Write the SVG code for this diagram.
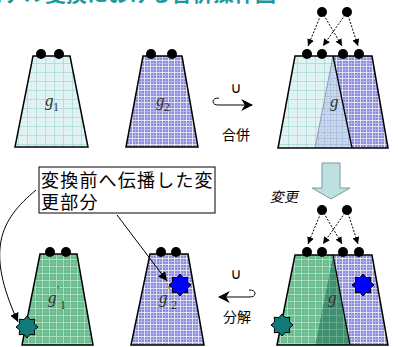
<svg xmlns="http://www.w3.org/2000/svg" width="398" height="347" viewBox="0 0 398 347">
<style>
.edge{stroke:#000;stroke-width:1.5;stroke-linejoin:miter}
.dot{fill:#000}
.dash{stroke:#000;stroke-width:1;stroke-dasharray:2 1.5;fill:none}
.lbl{font-family:"Liberation Serif",serif;font-style:italic;font-size:17px;fill:#333}
.sub{font-family:"Liberation Serif",serif;font-size:12px;fill:#333}
.jp{font-family:"Noto Sans CJK JP",sans-serif;fill:#000}
.ln{stroke:#000;stroke-width:1;fill:none}
</style>
<defs>
<pattern id="pc" width="9" height="9" patternUnits="userSpaceOnUse">
<rect width="9" height="9" fill="#e1f2f2"/>
<path d="M0 0.5H9M0.5 0V9" stroke="#a9d9d9" stroke-width="0.8"/>
<circle cx="4.5" cy="4.5" r="0.6" fill="#bfe3e3"/>
</pattern>
<pattern id="pb" width="6" height="6" patternUnits="userSpaceOnUse">
<rect width="6" height="6" fill="#8c8cd6"/>
<path d="M0 0.5H6M0.5 0V6" stroke="#ececff" stroke-width="0.9"/>
<path d="M0 3.5H6M3.5 0V6" stroke="#c8c8f0" stroke-width="0.6"/>
</pattern>
<pattern id="pm" width="6" height="6" patternUnits="userSpaceOnUse">
<rect width="6" height="6" fill="#c6dae8"/>
<path d="M0 0.5H6M0.5 0V6" stroke="#a8b4e0" stroke-width="0.7"/>
<circle cx="3.5" cy="3.5" r="0.6" fill="#9fa8dc"/>
</pattern>
<pattern id="pg" width="7" height="7" patternUnits="userSpaceOnUse">
<rect width="7" height="7" fill="#66b98a"/>
<path d="M0 0.5H7M0.5 0V7" stroke="#b2e2c4" stroke-width="0.9"/>
<path d="M0 4H7M4 0V7" stroke="#88cca6" stroke-width="0.6"/>
</pattern>
<pattern id="pd" width="7" height="7" patternUnits="userSpaceOnUse">
<rect width="7" height="7" fill="#3f9070"/>
<path d="M0 0.5H7M0.5 0V7" stroke="#6fae92" stroke-width="0.8"/>
</pattern>
<polygon id="star" points="0,-11 3.06,-7.39 7.78,-7.78 7.39,-3.06 11,0 7.39,3.06 7.78,7.78 3.06,7.39 0,11 -3.06,7.39 -7.78,7.78 -7.39,3.06 -11,0 -7.39,-3.06 -7.78,-7.78 -3.06,-7.39" stroke="#000" stroke-width="1"/>
<marker id="ah" viewBox="0 0 10 10" refX="10" refY="5" markerWidth="7" markerHeight="7" orient="auto" markerUnits="userSpaceOnUse">
<path d="M0 0L10 5L0 10z" fill="#000"/>
</marker>
<marker id="ah2" viewBox="0 0 10 10" refX="10" refY="5" markerWidth="9" markerHeight="9" orient="auto" markerUnits="userSpaceOnUse">
<path d="M0 0L10 5L0 10z" fill="#000"/>
</marker>
<marker id="ah3" viewBox="0 0 10 10" refX="9" refY="5" markerWidth="12" markerHeight="12" orient="auto" markerUnits="userSpaceOnUse">
<path d="M0 0L10 5L0 10L3 5z" fill="#000"/>
</marker>
</defs>
<rect width="398" height="347" fill="#fff"/>
<text x="-18" y="1" font-family="Noto Sans CJK JP,sans-serif" font-size="21" font-weight="bold" fill="#1a9aa0">モデル変換における合併操作図</text>

<g id="g1">
<polygon points="33,56 70,56 88,147 15,147" fill="url(#pc)" class="edge"/>
<circle cx="41" cy="54" r="5" class="dot"/><circle cx="59" cy="54" r="5" class="dot"/>
<text x="45" y="106" class="lbl">g</text><text x="53" y="111" class="sub">1</text>
</g>
<g id="g2">
<polygon points="143,56 182,56 198,147 126,147" fill="url(#pb)" class="edge"/>
<circle cx="151" cy="54" r="5" class="dot"/><circle cx="172" cy="54" r="5" class="dot"/>
<text x="156" y="106" class="lbl">g</text><text x="164" y="111" class="sub">2</text>
</g>
<g id="merge">
<text x="236" y="93" text-anchor="middle" font-family="DejaVu Sans,sans-serif" font-size="15" fill="#000">∪</text>
<path d="M219 98 Q213 98 213 101.5 Q213 105 219 105 L252 105" class="ln" stroke-width="1.8" marker-end="url(#ah3)"/>
<text x="236" y="140" text-anchor="middle" class="jp" font-size="14">合併</text>
</g>
<g id="g">
<polygon points="295,56 333,56 315,148 278,148" fill="url(#pc)"/>
<polygon points="333,56 352,148 315,148" fill="url(#pm)"/>
<polygon points="333,56 372,56 388,148 352,148" fill="url(#pb)"/>
<line x1="333" y1="56" x2="315" y2="148" stroke="#7a8aa0" stroke-width="0.8"/>
<line x1="333" y1="56" x2="352" y2="148" stroke="#000" stroke-width="1.3"/>
<polygon points="295,56 372,56 388,148 278,148" fill="none" class="edge"/>
<circle cx="307" cy="54" r="5" class="dot"/><circle cx="322" cy="54" r="5" class="dot"/>
<circle cx="343" cy="54" r="5" class="dot"/><circle cx="359" cy="54" r="5" class="dot"/>
<circle cx="322" cy="12" r="5" class="dot"/><circle cx="347" cy="12" r="5" class="dot"/>
<text x="330" y="107" class="lbl">g</text>
</g>
<g id="change">
<polygon points="322,163 340,163 340,188 350,188 331,199 312,188 322,188" fill="#bde0e3" stroke="#7c9a9c" stroke-width="1"/>
<text x="284" y="202" text-anchor="middle" class="jp" font-size="14" transform="translate(284 202) skewX(-12) translate(-284 -202)">変更</text>
</g>
<g id="g1p">
<polygon points="40,254 77,254 93,345 22,345" fill="url(#pg)" class="edge"/>
<circle cx="50" cy="252" r="5" class="dot"/><circle cx="66" cy="252" r="5" class="dot"/>
<text x="48" y="303" class="lbl">g</text><text x="57" y="294" class="sub">'</text><text x="60" y="309" class="sub">1</text>
<use href="#star" x="27" y="327" fill="#117a78"/>
</g>
<g id="g2p">
<polygon points="150,254 188,254 204,345 131,345" fill="url(#pb)" class="edge"/>
<circle cx="161" cy="252" r="5" class="dot"/><circle cx="176" cy="252" r="5" class="dot"/>
<text x="159" y="303" class="lbl">g</text><text x="168" y="294" class="sub">'</text><text x="171" y="309" class="sub">2</text>
<use href="#star" x="180" y="285" fill="#0000ff"/>
</g>
<g id="split">
<text x="236" y="279" text-anchor="middle" font-family="DejaVu Sans,sans-serif" font-size="15" fill="#000">∪</text>
<path d="M249 290 Q255 290 255 293.5 Q255 297 249 297 L219 297" class="ln" stroke-width="1.8" marker-end="url(#ah3)"/>
<text x="237" y="322" text-anchor="middle" class="jp" font-size="14">分解</text>
</g>
<g id="gp">
<polygon points="295,255 333,255 315,345 277,345" fill="url(#pg)"/>
<polygon points="333,255 350,345 315,345" fill="url(#pd)"/>
<polygon points="333,255 372,255 388,345 350,345" fill="url(#pb)"/>
<line x1="333" y1="255" x2="350" y2="345" stroke="#000" stroke-width="1.3"/>
<polygon points="295,255 372,255 388,345 277,345" fill="none" class="edge"/>
<circle cx="307" cy="252" r="5" class="dot"/><circle cx="322" cy="252" r="5" class="dot"/>
<circle cx="343" cy="252" r="5" class="dot"/><circle cx="359" cy="252" r="5" class="dot"/>
<circle cx="322" cy="210" r="5" class="dot"/><circle cx="347" cy="210" r="5" class="dot"/>
<text x="328" y="303" class="lbl">g</text>
<use href="#star" x="282" y="325" fill="#117a78"/>
<use href="#star" x="363" y="285" fill="#0000ff"/>
</g>
<g id="callout">
<rect x="39" y="167" width="176" height="46" fill="#fff" stroke="#000" stroke-width="1"/>
<text class="jp" font-size="18" letter-spacing="1.2"><tspan x="41" y="187">変換前へ伝播した変</tspan><tspan x="41" y="209">更部分</tspan></text>
</g>
<g id="connectors">
<line x1="322" y1="12" x2="308" y2="46" class="dash" marker-end="url(#ah)"/>
<line x1="322" y1="12" x2="342" y2="46" class="dash" marker-end="url(#ah)"/>
<line x1="347" y1="12" x2="323" y2="46" class="dash" marker-end="url(#ah)"/>
<line x1="347" y1="12" x2="358" y2="46" class="dash" marker-end="url(#ah)"/>
<line x1="322" y1="210" x2="308" y2="244" class="dash" marker-end="url(#ah)"/>
<line x1="322" y1="210" x2="342" y2="244" class="dash" marker-end="url(#ah)"/>
<line x1="347" y1="210" x2="323" y2="244" class="dash" marker-end="url(#ah)"/>
<line x1="347" y1="210" x2="358" y2="244" class="dash" marker-end="url(#ah)"/>
<path d="M36 190 C0 220 -15 250 18 322" class="ln" marker-end="url(#ah2)"/>
<line x1="117" y1="215" x2="167" y2="281" class="ln" marker-end="url(#ah2)"/>
</g>
</svg>
